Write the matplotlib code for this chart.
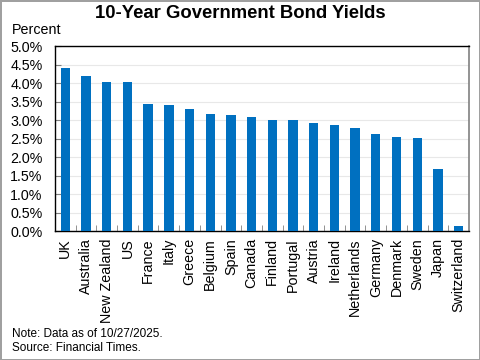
import numpy as np
import matplotlib.pyplot as plt
from matplotlib.ticker import FixedLocator

plt.rcParams['font.family'] = ['Liberation Sans', 'DejaVu Sans']

countries = ["UK", "Australia", "New Zealand", "US", "France", "Italy", "Greece",
             "Belgium", "Spain", "Canada", "Finland", "Portugal", "Austria",
             "Ireland", "Netherlands", "Germany", "Denmark", "Sweden", "Japan",
             "Switzerland"]
yields = [4.41, 4.19, 4.03, 4.03, 3.43, 3.41, 3.30, 3.18, 3.15, 3.09, 3.00,
          3.00, 2.93, 2.86, 2.78, 2.62, 2.54, 2.52, 1.67, 0.15]
yticks = np.arange(0, 5.01, 0.5)

fig = plt.figure(figsize=(4.8, 3.6), dpi=100)
fig.patch.set_edgecolor('#A0A0A0')
fig.patch.set_linewidth(2)

ax = fig.add_axes([0.1146, 0.358, 0.8624, 0.513])
x = np.arange(len(countries))
ax.bar(x, yields, width=0.45, color='#0070C0', zorder=3)

ax.set_xlim(-0.5, len(countries) - 0.5)
ax.set_ylim(0, 5)
ax.set_yticks(yticks)
ax.set_yticklabels([f"{v:.1f}%" for v in yticks], fontsize=10.3)
ax.yaxis.grid(True, color='#E8E8E8', lw=0.8, zorder=0)
ax.tick_params(axis='y', direction='in', length=4, color='#808080', pad=9)

ax.set_xticks(x)
ax.set_xticklabels(countries, rotation=90, fontsize=10.3)
ax.tick_params(axis='x', which='major', length=0, pad=5)
ax.xaxis.set_minor_locator(FixedLocator(x[:-1] + 0.5))
ax.tick_params(axis='x', which='minor', direction='in', length=4, color='#808080')

for side in ['left', 'bottom', 'top']:
    ax.spines[side].set_color('black')
    ax.spines[side].set_linewidth(1)
ax.spines['right'].set_color('#808080')
ax.spines['right'].set_linewidth(1.2)

fig.text(0.5, 0.963, "10-Year Government Bond Yields", ha='center', va='center',
         fontsize=13.3, fontweight='bold')
fig.text(0.025, 0.918, "Percent", ha='left', va='center', fontsize=10.3)
fig.text(0.025, 0.073, "Note: Data as of 10/27/2025.", ha='left', va='center', fontsize=8.5)
fig.text(0.025, 0.033, "Source: Financial Times.", ha='left', va='center', fontsize=8.5)

fig.savefig("out.png", dpi=100)
